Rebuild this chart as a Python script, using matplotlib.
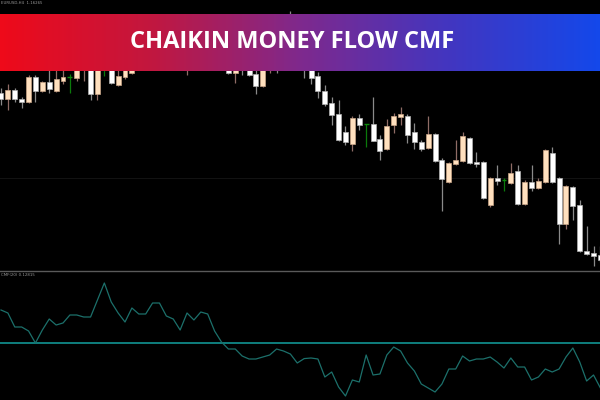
import matplotlib.pyplot as plt
import numpy as np
from matplotlib.colors import LinearSegmentedColormap

# candle prices (arbitrary price points)
opens = [207, 201, 210, 201, 198, 223, 209, 218, 209, 219, 223, 222, 230, 240, 206, 232, 238, 215, 223, 227,
         245, 238, 252, 245, 252, 260, 250, 240, 262, 252, 264, 248, 255, 245, 227, 250, 240, 226, 214, 240,
         260, 255, 278, 262, 250, 240, 224, 209, 197, 186, 168, 156, 182, 176, 176, 161, 151, 175, 183, 184,
         168, 158, 152, 166, 140, 118, 136, 139, 162, 138, 138, 95, 122, 120, 117, 129, 96, 118, 112, 118,
         147, 122, 76, 113, 95, 49, 47, 45]
closes = [201, 210, 201, 198, 223, 209, 218, 211, 221, 223, 223, 235, 242, 206, 235, 232, 217, 224, 234, 240,
          235, 250, 242, 258, 262, 248, 265, 260, 250, 265, 245, 260, 238, 227, 242, 238, 225, 214, 245, 255,
          245, 270, 260, 245, 235, 222, 209, 196, 185, 160, 158, 182, 175, 176, 159, 149, 174, 184, 186, 165,
          158, 151, 166, 139, 121, 137, 140, 164, 137, 136, 102, 122, 119, 120, 127, 96, 118, 112, 119, 150,
          118, 76, 114, 94, 49, 46, 44, 40]
highs = [212, 216, 212, 203, 225, 225, 219, 230, 232, 234, 226, 240, 248, 245, 240, 240, 242, 232, 238, 245,
         250, 255, 256, 262, 266, 264, 268, 264, 266, 270, 267, 264, 260, 250, 248, 255, 245, 235, 250, 260,
         265, 275, 289, 270, 255, 245, 228, 215, 203, 200, 174, 184, 186, 176, 203, 165, 181, 187, 193, 186,
         177, 160, 184, 167, 142, 138, 160, 168, 163, 148, 139, 123, 135, 122, 137, 135, 120, 135, 122, 151,
         153, 123, 115, 114, 100, 74, 54, 54]
lows = [195, 190, 198, 192, 197, 198, 208, 207, 208, 216, 207, 219, 219, 200, 200, 224, 216, 214, 221, 226,
        232, 236, 238, 242, 248, 245, 246, 225, 244, 248, 240, 242, 234, 226, 217, 225, 224, 206, 213, 227,
        227, 245, 250, 238, 222, 216, 202, 194, 175, 159, 155, 149, 170, 153, 159, 140, 150, 167, 175, 157,
        151, 149, 151, 138, 89, 117, 135, 138, 136, 133, 101, 93, 115, 109, 116, 95, 95, 109, 111, 117,
        117, 56, 71, 80, 48, 45, 34, 38]

# Chaikin Money Flow values
cmf = [0.165, 0.150, 0.080, 0.080, 0.060, 0.000, 0.065, 0.120, 0.090, 0.100,
       0.140, 0.140, 0.130, 0.130, 0.215, 0.300, 0.205, 0.150, 0.105, 0.175,
       0.145, 0.145, 0.200, 0.200, 0.135, 0.120, 0.065, 0.150, 0.115, 0.155,
       0.145, 0.060, 0.005, -0.030, -0.030, -0.065, -0.080, -0.080, -0.070, -0.060,
       -0.030, -0.040, -0.055, -0.100, -0.078, -0.075, -0.080, -0.170, -0.145, -0.220,
       -0.265, -0.185, -0.195, -0.060, -0.160, -0.155, -0.060, -0.020, -0.040, -0.100,
       -0.140, -0.205, -0.225, -0.245, -0.205, -0.130, -0.130, -0.065, -0.090, -0.080,
       -0.080, -0.070, -0.095, -0.125, -0.075, -0.120, -0.120, -0.185, -0.170, -0.130,
       -0.145, -0.130, -0.070, -0.025, -0.095, -0.190, -0.160, -0.225]

title = 'CHAIKIN MONEY FLOW CMF'

fig = plt.figure(figsize=(6, 4), dpi=100, facecolor='black')

ax = fig.add_axes([0, 130 / 400, 1, 270 / 400], facecolor='black')
sub = fig.add_axes([0, 0, 1, 129 / 400], facecolor='black')

x = np.arange(len(opens))
o = np.array(opens)
c = np.array(closes)

ax.axhline(122, color='#121212', lw=0.8, zorder=0)

for i in x:
    if c[i] < o[i]:
        body, edge, wick = '#ffffff', '#b0b0b0', '#8a8a8a'
    elif c[i] > o[i]:
        body, edge, wick = '#ffe0be', '#c9a587', '#8f6c66'
    else:
        body, edge, wick = '#0b8a0b', '#0b8a0b', '#0b7a0b'
    ax.vlines(i, lows[i], highs[i], color=wick, lw=0.9, zorder=1)
    if c[i] == o[i]:
        ax.hlines(o[i], i - 0.35, i + 0.35, color=body, lw=1.0, zorder=2)
    else:
        ax.bar(i, abs(c[i] - o[i]), bottom=min(o[i], c[i]), width=0.72,
               color=body, edgecolor=edge, linewidth=0.5, zorder=2)

ax.set_xlim(-0.145, 86.94)
ax.set_ylim(30, 300)
ax.axis('off')

sub.axhline(0, color='#0f7f7e', lw=1.4)
sub.plot(x, cmf, color='#1c706b', lw=0.9)
sub.set_xlim(-0.145, 86.94)
sub.set_ylim(-0.285, 0.36)
sub.set_xticks([])
sub.set_yticks([])
for s in ['left', 'right', 'bottom']:
    sub.spines[s].set_visible(False)
sub.spines['top'].set_color('#5a5a5a')
sub.spines['top'].set_linewidth(1.0)

sub.text(0.002, 0.985, 'CMF(20) 0.12815', transform=sub.transAxes, fontsize=2.8,
         color='#9a9a9a', va='top', ha='left')
ax.text(0.002, 0.998, 'EURUSD,H4  1.16265', transform=ax.transAxes, fontsize=2.8,
        color='#9a9a9a', va='top', ha='left')

# banner with gradient
band = fig.add_axes([0, 329 / 400, 1, 57 / 400])
cmap = LinearSegmentedColormap.from_list('band', ['#ee0a1a', '#c2173f', '#7f298d', '#4236c0', '#1448ea'])
band.imshow(np.linspace(0, 1, 300).reshape(1, -1), cmap=cmap, aspect='auto', extent=[0, 1, 0, 1])
band.set_xlim(0, 1)
band.set_ylim(0, 1)
band.axis('off')
band.text(0.487, 0.5, title, color='white', fontsize=17, fontweight='bold',
          family='Open Sans', ha='center', va='center')

fig.savefig('out.png', dpi=100, facecolor='black')
